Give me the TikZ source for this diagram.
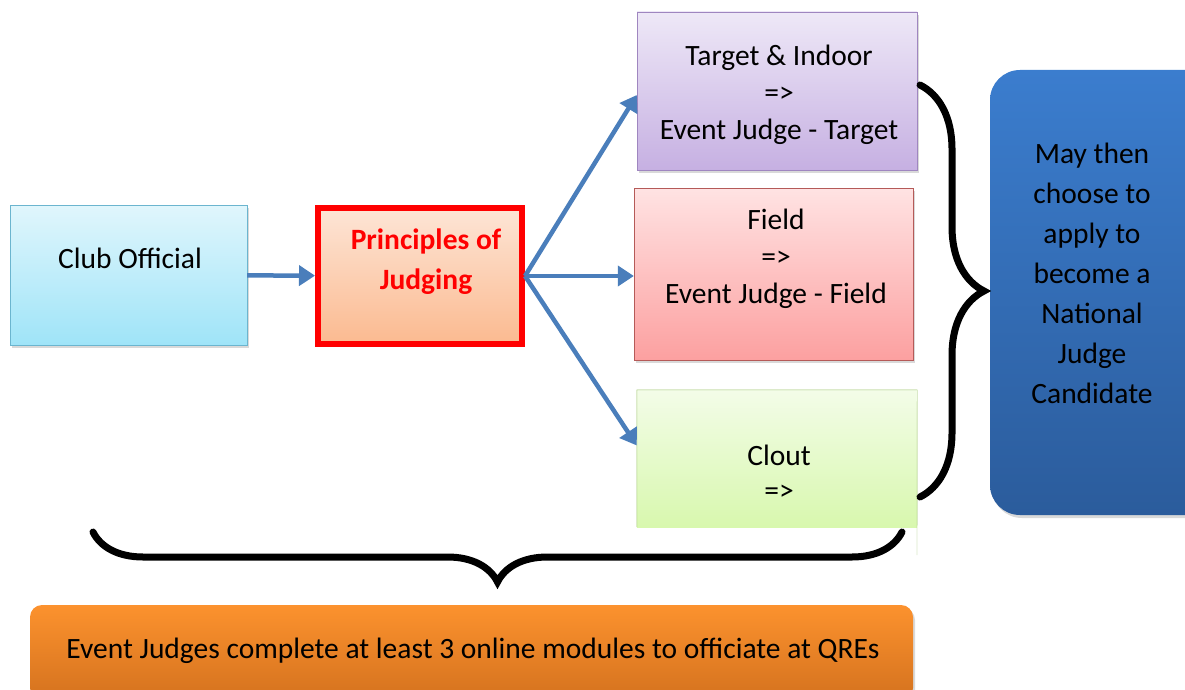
\documentclass[tikz,border=0pt]{standalone}
\usepackage{fontspec}
\setmainfont{Carlito}
\usepackage{tikz}
\usetikzlibrary{arrows.meta}
\usetikzlibrary{shadows, decorations.pathreplacing}

\definecolor{arrowblue}{HTML}{4A7EBB}
\definecolor{clubtop}{HTML}{E0F6FC}
\definecolor{clubbot}{HTML}{9FE4F8}
\definecolor{clubline}{HTML}{6BB5CF}
\definecolor{princtop}{HTML}{FDE5D6}
\definecolor{princbot}{HTML}{FBBA90}
\definecolor{targettop}{HTML}{EEE8F7}
\definecolor{targetbot}{HTML}{C6B0E2}
\definecolor{targetline}{HTML}{9F86C0}
\definecolor{fieldtop}{HTML}{FFE3E3}
\definecolor{fieldbot}{HTML}{FCA0A0}
\definecolor{fieldline}{HTML}{B55A58}
\definecolor{clouttop}{HTML}{F3FCE8}
\definecolor{cloutbot}{HTML}{D8F8AE}
\definecolor{cloutline}{HTML}{9BC36A}
\definecolor{nattop}{HTML}{3B7DCE}
\definecolor{natbot}{HTML}{2B5C9C}
\definecolor{qretop}{HTML}{FC922E}
\definecolor{qrebot}{HTML}{D4721E}

\begin{document}
\begin{tikzpicture}[x=1pt, y=-1pt]
\tikzstyle{box} = [rectangle, inner sep=0pt, drop shadow={shadow xshift=2pt, shadow yshift=-3pt, opacity=0.3}]
\tikzstyle{txt} = [align=center, font=\fontsize{29.5}{37}\selectfont]
\tikzstyle{edge} = [draw=arrowblue, line width=4.5pt, -{Triangle[length=16pt, width=20pt]}]
\tikzstyle{curly} = [draw=black, line width=7pt, line cap=round, decorate]

\useasboundingbox (0,0) rectangle (1185,690);

\node[box, draw=clubline, top color=clubtop, bottom color=clubbot, minimum width=237pt, minimum height=140pt] (club) at (128.5,275) {};
\node[txt] (clubtxt) at (130,258) {Club Official};

\node[box, draw=red, line width=6pt, top color=princtop, bottom color=princbot, minimum width=204pt, minimum height=136pt] (princ) at (420,276) {};
\node[txt, text=red, font=\bfseries\fontsize{29.5}{40}\selectfont] (princtxt) at (426,262) {Principles of\\Judging};

\node[box, draw=targetline, top color=targettop, bottom color=targetbot, minimum width=280pt, minimum height=158pt] (target) at (777,91) {};
\node[txt] (targettxt) at (779,95) {Target \& Indoor\\=>\\Event Judge - Target};

\node[box, draw=fieldline, top color=fieldtop, bottom color=fieldbot, minimum width=279pt, minimum height=172pt] (field) at (773.5,274) {};
\node[txt] (fieldtxt) at (776,259) {Field\\=>\\Event Judge - Field};

\node[rectangle, inner sep=0pt, top color=clouttop, bottom color=cloutbot, minimum width=280pt, minimum height=137pt] (clout) at (777,458.5) {};
\draw[cloutline] (clout.south west) -- (clout.north west) -- (clout.north east) -- (917,555);
\node[txt, font=\fontsize{29.5}{35}\selectfont] (clouttxt) at (779,473) {Clout\\=>};

\node[box, rounded corners=30pt, top color=nattop, bottom color=natbot, minimum width=225pt, minimum height=445pt] (nat) at (1102.5,292.5) {};
\node[txt, font=\fontsize{29.5}{40}\selectfont] (nattxt) at (1092,273) {May then\\choose to\\apply to\\become a\\National\\Judge\\Candidate};

\node[box, rounded corners=12pt, top color=qretop, bottom color=qrebot, minimum width=883pt, minimum height=95pt] (qre) at (471.5,652.5) {};
\node[txt] (qretxt) at (473,651) {Event Judges complete at least 3 online modules to officiate at QREs};

\draw[edge] (club) -- (princ);
\draw[edge] (princ.east) -- ([yshift=-4pt]target.west);
\draw[edge] (princ.east) -- ([yshift=-2pt]field.west);
\draw[edge] (princ.east) -- ([yshift=13pt]clout.west);

\draw[curly, decoration={brace, amplitude=64pt}] (920,85) -- (920,497);
\draw[curly, decoration={brace, amplitude=50pt}] (902,532) -- (93,532);
\end{tikzpicture}
\end{document}
